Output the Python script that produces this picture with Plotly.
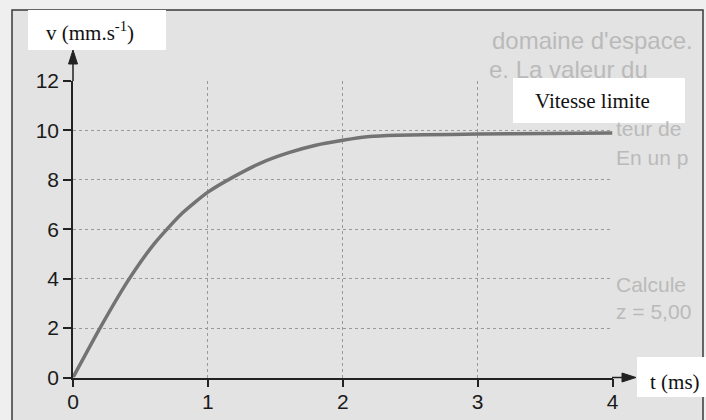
import plotly.graph_objects as go

# ---- data ----
t_ms = [0, 0.2, 0.4, 0.6, 0.8, 1.0, 1.2, 1.4, 1.6, 1.8, 2.0, 2.2, 2.4, 2.6, 3.0, 3.5, 4.0]
v_mm = [0, 2.0, 3.85, 5.4, 6.6, 7.5, 8.15, 8.7, 9.1, 9.4, 9.6, 9.75, 9.8, 9.82, 9.85, 9.88, 9.9]
x_ticks = [0, 1, 2, 3, 4]
y_ticks = [0, 2, 4, 6, 8, 10, 12]
y_label = "v (mm.s<sup>-1</sup>)"
x_label = "t (ms)"
limit_label = "Vitesse limite"
bleed_texts = ["domaine d'espace.", "e. La valeur du", "teur de", "En un p", "Calcule", "z = 5,00"]

W, H = 706, 420
def px(x):
    return x / W
def py(y):
    return 1 - y / H

fig = go.Figure()
fig.add_trace(go.Scatter(
    x=t_ms, y=v_mm, mode="lines",
    line=dict(color="#737373", width=3.5, shape="spline", smoothing=0.6),
    hoverinfo="skip", showlegend=False,
))

def tri(points):
    return "M " + " L ".join(f"{px(a)},{py(b)}" for a, b in points) + " Z"

shapes = [
    # scanned page frame
    dict(type="rect", xref="paper", yref="paper", x0=px(12), x1=px(703), y0=py(421), y1=py(10),
         fillcolor="#e3e3e3", line=dict(color="#3a3a3a", width=1.5), layer="below"),
    # white label boxes
    dict(type="rect", xref="paper", yref="paper", x0=px(28), x1=px(166), y0=py(50), y1=py(10),
         fillcolor="white", line=dict(width=0), layer="above"),
    dict(type="rect", xref="paper", yref="paper", x0=px(513), x1=px(685), y0=py(123), y1=py(78),
         fillcolor="white", line=dict(width=0), layer="above"),
    dict(type="rect", xref="paper", yref="paper", x0=px(637), x1=px(706), y0=py(397), y1=py(357),
         fillcolor="white", line=dict(width=0), layer="above"),
    # axis extensions with arrow heads
    dict(type="line", xref="paper", yref="paper", x0=px(612), x1=px(626), y0=py(377.5), y1=py(377.5),
         line=dict(color="#222", width=1.5), layer="above"),
    dict(type="path", xref="paper", yref="paper", path=tri([(636, 377.5), (622, 373), (622, 382)]),
         fillcolor="#222", line=dict(color="#222", width=1), layer="above"),
    dict(type="line", xref="paper", yref="paper", x0=px(73), x1=px(73), y0=py(81), y1=py(62),
         line=dict(color="#222", width=1.5), layer="above"),
    dict(type="path", xref="paper", yref="paper", path=tri([(73, 50), (68.5, 64), (77.5, 64)]),
         fillcolor="#222", line=dict(color="#222", width=1), layer="above"),
]

annotations = []
# faint bleed-through text of the scanned page
bleed_pos = [(490, 40), (487, 70), (614, 128), (614, 157), (614, 284), (614, 311)]
bleed_size = [24, 24, 21, 21, 21, 21]
for txt, (bx, by), fs in zip(bleed_texts, bleed_pos, bleed_size):
    annotations.append(dict(xref="paper", yref="paper", x=px(bx), y=py(by), text=txt,
                            showarrow=False, xanchor="left", yanchor="middle",
                            font=dict(family="Liberation Sans", size=fs, color="#bababa")))

serif = "Liberation Serif, Times New Roman, serif"
annotations += [
    dict(xref="paper", yref="paper", x=px(90), y=py(32), text=y_label, showarrow=False,
         xanchor="center", yanchor="middle", font=dict(family=serif, size=21, color="#111")),
    dict(xref="paper", yref="paper", x=px(592), y=py(101), text=limit_label, showarrow=False,
         xanchor="center", yanchor="middle", font=dict(family=serif, size=21, color="#111")),
    dict(xref="paper", yref="paper", x=px(648), y=py(382), text=x_label, showarrow=False,
         xanchor="left", yanchor="middle", font=dict(family=serif, size=21, color="#111")),
]

axis_common = dict(
    showline=True, linecolor="#222", linewidth=1.5,
    ticks="outside", ticklen=8, tickwidth=1.5, tickcolor="#222",
    showgrid=True, gridcolor="#9a9a9a", gridwidth=1, griddash="dot",
    zeroline=False, fixedrange=True, automargin=False,
    tickfont=dict(family="Liberation Sans, Arial, sans-serif", size=21, color="#1a1a1a"),
)

fig.update_layout(
    width=W, height=H,
    margin=dict(l=0, r=0, t=0, b=0, pad=0, autoexpand=False),
    paper_bgcolor="#efefef",
    plot_bgcolor="white",
    xaxis=dict(range=[0, 4], domain=[px(73), px(612.5)], tickvals=x_ticks,
               ticktext=[str(v) for v in x_ticks], ticklabelstandoff=-3, **axis_common),
    yaxis=dict(range=[0, 12], domain=[py(377.5), py(81)], tickvals=y_ticks,
               ticktext=[str(v) for v in y_ticks], **axis_common),
    shapes=shapes,
    annotations=annotations,
    showlegend=False,
)

fig.write_html("out.html", config={"displayModeBar": False},
               post_script="document.body.style.margin='0';document.body.style.overflow='hidden';")
